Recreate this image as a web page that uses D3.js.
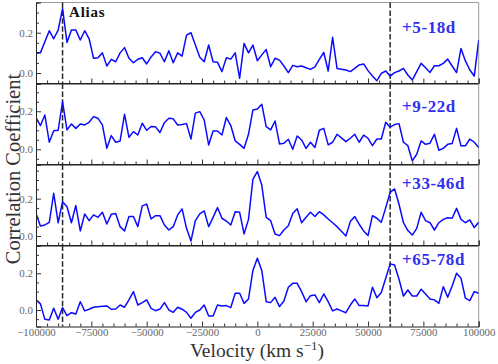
<!DOCTYPE html>
<html><head><meta charset="utf-8">
<script src="https://cdn.jsdelivr.net/npm/d3@7"></script>
<style>body{margin:0;background:#fff} svg{display:block}</style>
</head><body><svg id="c" width="498" height="364"></svg>
<script>
const velocity = [-100000,-98000,-96000,-94000,-92000,-90000,-88000,-86000,-84000,-82000,-80000,-78000,-76000,-74000,-72000,-70000,-68000,-66000,-64000,-62000,-60000,-58000,-56000,-54000,-52000,-50000,-48000,-46000,-44000,-42000,-40000,-38000,-36000,-34000,-32000,-30000,-28000,-26000,-24000,-22000,-20000,-18000,-16000,-14000,-12000,-10000,-8000,-6000,-4000,-2000,0,2000,4000,6000,8000,10000,12000,14000,16000,18000,20000,22000,24000,26000,28000,30000,32000,34000,36000,38000,40000,42000,44000,46000,48000,50000,52000,54000,56000,58000,60000,62000,64000,66000,68000,70000,72000,74000,76000,78000,80000,82000,84000,86000,88000,90000,92000,94000,96000,98000,100000];

const epochLabels = ["+5-18d", "+9-22d", "+33-46d", "+65-78d"];

const corr_5_18 = [0.10,0.10,0.155,0.21,0.17,0.213,0.32,0.152,0.213,0.213,0.164,0.21,0.17,0.073,0.076,0.10,0.035,0.068,0.056,0.10,0.126,0.073,0.051,0.068,0.076,0.045,0.08,0.106,0.098,0.056,0.11,0.051,0.10,0.084,0.188,0.20,0.139,0.078,0.056,0.139,0.056,0.053,0.007,0.076,0.069,0.10,-0.026,0.147,0.10,
 0.139,0.061,0.09,0.117,0.031,0.073,0.064,0.035,0.002,0.038,0.031,0.035,0.026,0.018,0.031,0.068,0.102,0.01,0.177,0.023,0.019,0.015,0.007,0.023,0.04,0.045,0.012,-0.015,-0.038,-0.002,0.01,-0.015,0.002,0.01,0.023,-0.01,-0.035,0.007,0.048,0.026,0.003,0.036,0.036,0.048,0.069,0.035,0.002,0.122,0.06,0.015,-0.015,0.164];

const corr_9_22 = [0.167,0.125,0.18,0.037,0.098,0.1,0.25,0.102,0.133,0.11,0.133,0.128,0.142,0.172,0.163,0.128,0.005,0.072,0.037,0.044,0.184,0.063,0.093,0.075,0.137,0.1,0.12,0.118,0.088,0.14,0.163,0.16,0.128,0.13,0.135,0.054,0.19,0.198,0.154,0.023,0.096,0.096,0.075,0.167,0.125,0.044,0.026,0.005,0.079,
 0.207,0.212,0.237,0.119,0.102,0.149,0.028,0.032,0.053,0.0,0.07,0.049,0.005,0.037,0.009,0.1,0.11,0.023,0.037,0.079,0.06,0.04,0.058,0.079,0.037,0.075,0.058,0.019,0.054,0.054,0.142,0.116,0.13,0.135,0.037,0.019,-0.061,-0.026,0.044,0.026,0.032,0.079,-0.005,0.005,0.026,0.03,0.11,0.018,0.018,0.054,0.037,0.009];

const corr_33_46 = [0.121,0.054,0.059,0.073,0.229,0.071,0.184,0.157,0.071,0.163,0.027,0.118,0.082,0.113,0.1,0.127,0.064,0.116,0.121,0.05,0.027,0.104,0.104,0.05,0.161,0.171,0.091,0.109,0.109,0.059,0.032,0.05,0.113,0.145,0.041,-0.027,0.082,0.118,0.134,0.05,0.1,0.152,0.095,0.08,0.059,0.13,0.127,0.011,0.089,
 0.304,0.345,0.273,0.1,0.082,0.011,0.002,0.032,0.055,0.121,0.146,0.071,0.1,0.127,0.104,0.13,0.113,0.091,0.071,0.05,0.025,0.0,0.077,0.104,0.063,0.027,0.002,0.109,0.095,0.073,0.152,0.234,0.252,0.17,0.071,0.029,0.005,0.041,0.127,0.082,0.071,0.032,0.071,0.089,0.098,0.095,0.148,0.089,0.071,0.086,0.045,0.073];

const corr_65_78 = [0.055,0.033,-0.051,-0.055,0.009,-0.051,0.013,-0.031,-0.015,-0.022,0.045,-0.005,0.004,0.015,0.018,0.02,0.022,0.004,0.005,0.027,0.015,0.055,0.1,0.027,0.04,0.055,0.009,-0.004,0.005,0.04,0.0,-0.013,0.015,0.004,-0.013,-0.045,-0.013,0.0,0.027,-0.033,-0.033,0.027,0.022,0.024,0.013,0.091,0.091,0.036,0.06,
 0.215,0.282,0.215,0.045,0.04,0.069,0.018,0.049,0.124,0.145,0.145,0.1,0.045,0.078,0.082,0.04,0.087,0.045,-0.005,0.005,-0.005,-0.015,0.027,0.06,0.024,0.024,0.022,0.124,0.067,0.095,0.173,0.251,0.245,0.167,0.076,0.109,0.076,0.076,0.113,0.087,0.06,0.055,0.036,0.127,0.069,0.131,0.2,0.173,0.064,0.051,0.1,0.091];

const aliasVelocities = [-88000, 60000];
const xMajorTicks = [-100000,-75000,-50000,-25000,0,25000,50000,75000,100000];
const yMajorTicks = [0.0, 0.2];
const yDomains = [[-0.052,0.35],[-0.08,0.346],[-0.051,0.383],[-0.09,0.351]];

const series = [corr_5_18, corr_9_22, corr_33_46, corr_65_78];
const labelBaselines = [33, 112, 189, 265];

const svg = d3.select("#c");
const FONT = "'Liberation Serif','Times New Roman',serif";
const left = 36, right = 478.7, top0 = 2.5, ph = 81;

const x = d3.scaleLinear().domain([-100000, 100000]).range([left, right]);
const xMinor = d3.range(-100000, 100001, 5000).filter(v => !xMajorTicks.includes(v));

series.forEach((vals, p) => {
  const t = top0 + p * ph, b = t + ph;
  const y = d3.scaleLinear().domain(yDomains[p]).range([b, t]);
  const g = svg.append("g");
  const cid = "clip" + p;
  svg.append("clipPath").attr("id", cid).append("rect")
    .attr("x", left).attr("y", t).attr("width", right - left).attr("height", ph);

  g.append("line").attr("x1", left).attr("x2", right).attr("y1", t).attr("y2", t)
    .attr("stroke", p === 0 ? "#9a9a9a" : "#222").attr("stroke-width", 1);
  g.append("line").attr("x1", right).attr("x2", right).attr("y1", t).attr("y2", b)
    .attr("stroke", "#9a9a9a").attr("stroke-width", 1);

  aliasVelocities.forEach(v => {
    g.append("line").attr("x1", x(v)).attr("x2", x(v)).attr("y1", t).attr("y2", b)
      .attr("stroke", "#2a2a2a").attr("stroke-width", 1.5).attr("stroke-dasharray", "5.5,2.4");
  });

  const line = d3.line().x((d, i) => x(velocity[i])).y(d => y(d));
  g.append("path").datum(vals).attr("d", line).attr("fill", "none")
    .attr("stroke", "#0a0aff").attr("stroke-width", 1.5).attr("stroke-linejoin", "round")
    .attr("clip-path", `url(#${cid})`);

  const yMinor = d3.range(-0.1, 0.45, 0.05).map(v => Math.round(v * 100) / 100)
    .filter(v => v >= yDomains[p][0] && v <= yDomains[p][1] && !yMajorTicks.includes(v));
  const ly = g.append("g").attr("transform", `translate(${left},0)`)
    .call(d3.axisLeft(y).tickValues(yMajorTicks).tickSize(-5).tickPadding(3).tickFormat(d3.format(".1f")));
  ly.select(".domain").attr("stroke", "#222");
  ly.selectAll(".tick line").attr("stroke", "#333");
  ly.selectAll("text").attr("font-family", FONT).attr("font-size", 11).attr("fill", "#666");
  g.append("g").attr("transform", `translate(${left},0)`)
    .call(d3.axisLeft(y).tickValues(yMinor).tickSize(-3).tickFormat(""))
    .call(s => { s.select(".domain").remove(); s.selectAll("line").attr("stroke", "#333"); });

  const bx = g.append("g").attr("transform", `translate(0,${b})`)
    .call(d3.axisBottom(x).tickValues(xMajorTicks).tickSize(-5).tickPadding(2)
      .tickFormat(p === 3 ? d3.format("d") : ""));
  bx.select(".domain").attr("stroke", "#222");
  bx.selectAll(".tick line").attr("stroke", "#333");
  bx.selectAll("text").attr("font-family", FONT).attr("font-size", 10.8).attr("fill", "#666");
  g.append("g").attr("transform", `translate(0,${b})`)
    .call(d3.axisBottom(x).tickValues(xMinor).tickSize(-3).tickFormat(""))
    .call(s => { s.select(".domain").remove(); s.selectAll("line").attr("stroke", "#333"); });

  g.append("text").attr("x", 402).attr("y", labelBaselines[p])
    .attr("font-family", FONT).attr("font-weight", "bold").attr("font-size", 17)
    .attr("letter-spacing", 0.6).attr("fill", "#3030f0").text(epochLabels[p]);
});

svg.append("text").attr("x", 69).attr("y", 16.5).attr("font-family", FONT)
  .attr("font-weight", "bold").attr("font-size", 15).attr("letter-spacing", 0.8)
  .attr("fill", "#111").text("Alias");

svg.append("text").attr("transform", "translate(20,169) rotate(-90)")
  .attr("text-anchor", "middle").attr("font-family", FONT).attr("font-size", 20.5)
  .attr("fill", "#333").text("Correlation Coefficient");

const xl = svg.append("text").attr("x", 257).attr("y", 356.5).attr("text-anchor", "middle")
  .attr("font-family", FONT).attr("font-size", 19.5).attr("fill", "#333");
xl.append("tspan").text("Velocity (km s");
xl.append("tspan").attr("font-size", 13).attr("dy", -7).text("\u22121");
xl.append("tspan").attr("dy", 7).text(")");
</script></body></html>
